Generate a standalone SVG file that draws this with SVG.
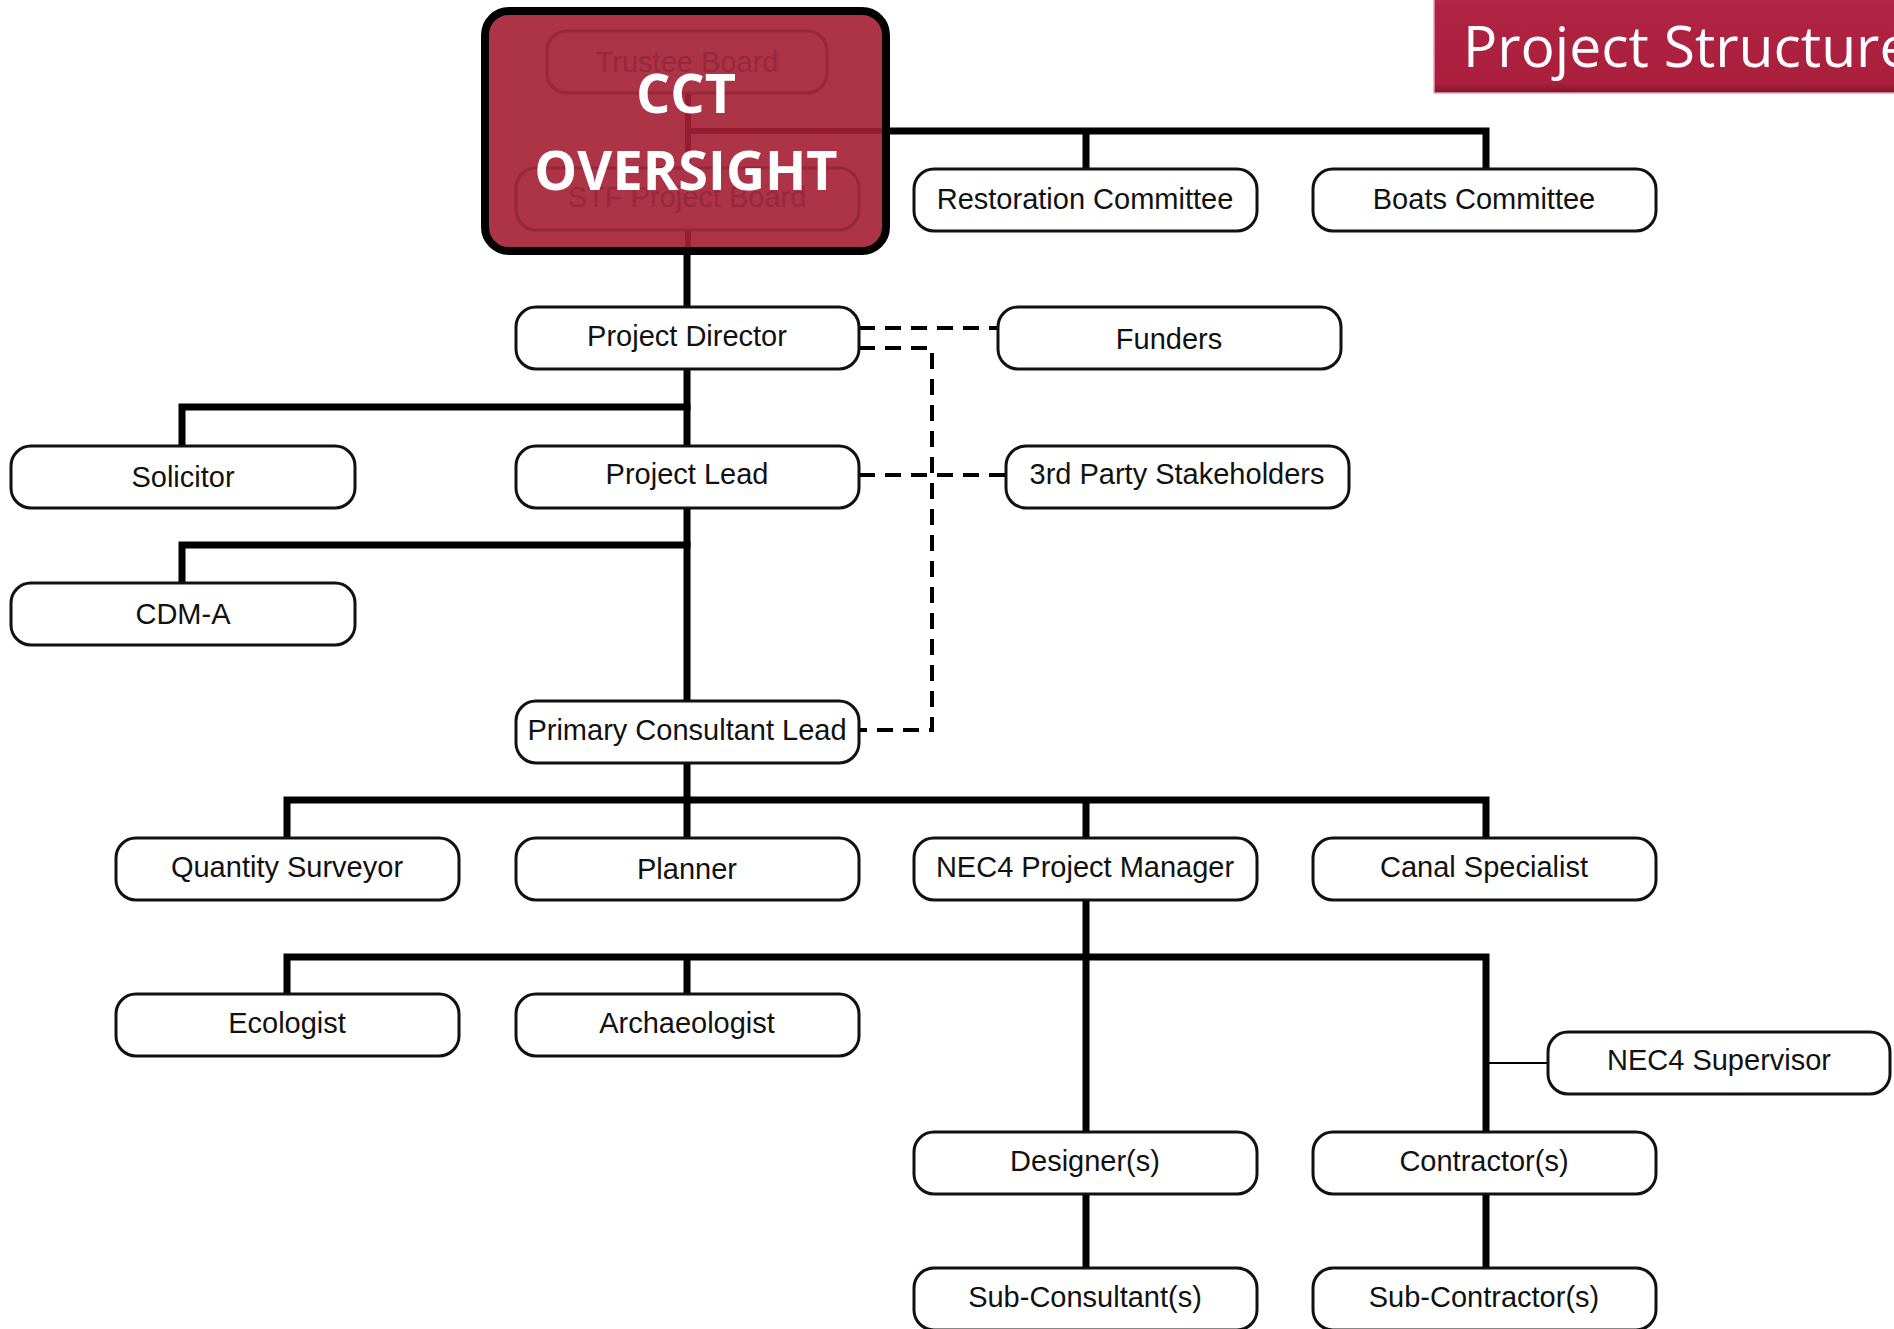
<svg xmlns="http://www.w3.org/2000/svg" width="1894" height="1329" viewBox="0 0 1894 1329">
  <defs>
    <linearGradient id="titleGrad" x1="0" y1="0" x2="0" y2="1">
      <stop offset="0" stop-color="#C0304E"/>
      <stop offset="0.08" stop-color="#B02343"/>
      <stop offset="0.9" stop-color="#AB1F3D"/>
      <stop offset="1" stop-color="#7E1529"/>
    </linearGradient>
  </defs>
  <style>
    .box { fill: #ffffff; stroke: #111111; stroke-width: 3; }
    .lbl { font-family: "Liberation Sans", Arial, sans-serif; font-size: 29px; fill: #111111; text-anchor: middle; }
    .conn { stroke: #000000; stroke-width: 7; fill: none; stroke-linecap: square; }
    .thin { stroke: #000000; stroke-width: 2; fill: none; }
    .dash { stroke: #000000; stroke-width: 4; fill: none; stroke-dasharray: 16 10; }
    .faintbox { fill: none; stroke: #97283B; stroke-width: 3; }
    .faintlbl { font-family: "Liberation Sans", Arial, sans-serif; font-size: 29px; fill: #97293C; text-anchor: middle; }
    .big { font-family: "Open Sans", "Liberation Sans", sans-serif; font-weight: bold; font-size: 54px; fill: #ffffff; text-anchor: middle; }
  </style>

  <rect x="0" y="0" width="1894" height="1329" fill="#ffffff"/>

  <!-- Title -->
  <g id="title">
    <rect x="1434" y="-4" width="470" height="97" fill="url(#titleGrad)" stroke="#E8A3B2" stroke-width="1.5"/>
    <text x="1463" y="67" font-family="'Open Sans', 'Liberation Sans', sans-serif" font-size="57" fill="#ffffff">Project Structure</text>
  </g>

  <!-- Connectors -->
  <g id="connectors">
    <path class="conn" d="M889 131 H1486 M1086 131 V169 M1486 131 V169"/>
    <path class="conn" d="M687 255 V307 M687 368 V446 M687 507 V701 M687 762 V838"/>
    <path class="conn" d="M687 407 H182 V446"/>
    <path class="conn" d="M687 545 H182 V583"/>
    <path class="conn" d="M287 838 V800 H1486 V838 M1086 800 V838"/>
    <path class="conn" d="M1086 900 V1132"/>
    <path class="conn" d="M287 994 V957 H1486 V1132 M687 957 V994"/>
    <path class="conn" d="M1086 1193 V1268 M1486 1193 V1268"/>
    <path class="thin" d="M1486 1063 H1548"/>
    <path class="dash" d="M859 328 H998"/>
    <path class="dash" d="M859 348 H932 V730 H859"/>
    <path class="dash" d="M859 475 H1006"/>
  </g>

  <!-- Oversight group (faded board boxes under red overlay) -->
  <g id="oversight">
    <rect x="485" y="11" width="401" height="240" rx="24" fill="#AD3346" stroke="#000000" stroke-width="8"/>
    <path d="M688 93 V167 M688 131 H882 M688 230 V247" stroke="#951D31" stroke-width="6" fill="none"/>
    <rect class="faintbox" x="547" y="31" width="280" height="62" rx="20"/>
    <text class="faintlbl" x="687" y="72">Trustee Board</text>
    <rect class="faintbox" x="516" y="168" width="343" height="62" rx="20"/>
    <text class="faintlbl" x="687" y="207">STF Project Board</text>
    <text class="big" x="686" y="113">CCT</text>
    <text class="big" x="686" y="190">OVERSIGHT</text>
  </g>

  <g id="restoration"><rect class="box" x="914" y="169" width="343" height="62" rx="20"/><text class="lbl" x="1085" y="209">Restoration Committee</text></g>
  <g id="boats"><rect class="box" x="1313" y="169" width="343" height="62" rx="20"/><text class="lbl" x="1484" y="209">Boats Committee</text></g>
  <g id="project-director"><rect class="box" x="516" y="307" width="343" height="62" rx="20"/><text class="lbl" x="687" y="346">Project Director</text></g>
  <g id="funders"><rect class="box" x="998" y="307" width="343" height="62" rx="20"/><text class="lbl" x="1169" y="349">Funders</text></g>
  <g id="solicitor"><rect class="box" x="11" y="446" width="344" height="62" rx="20"/><text class="lbl" x="183" y="487">Solicitor</text></g>
  <g id="project-lead"><rect class="box" x="516" y="446" width="343" height="62" rx="20"/><text class="lbl" x="687" y="484">Project Lead</text></g>
  <g id="third-party"><rect class="box" x="1006" y="446" width="343" height="62" rx="20"/><text class="lbl" x="1177" y="484">3rd Party Stakeholders</text></g>
  <g id="cdm-a"><rect class="box" x="11" y="583" width="344" height="62" rx="20"/><text class="lbl" x="183" y="624">CDM-A</text></g>
  <g id="pcl"><rect class="box" x="516" y="701" width="343" height="62" rx="20"/><text class="lbl" x="687" y="740">Primary Consultant Lead</text></g>
  <g id="qs"><rect class="box" x="116" y="838" width="343" height="62" rx="20"/><text class="lbl" x="287" y="877">Quantity Surveyor</text></g>
  <g id="planner"><rect class="box" x="516" y="838" width="343" height="62" rx="20"/><text class="lbl" x="687" y="879">Planner</text></g>
  <g id="nec4-pm"><rect class="box" x="914" y="838" width="343" height="62" rx="20"/><text class="lbl" x="1085" y="877">NEC4 Project Manager</text></g>
  <g id="canal"><rect class="box" x="1313" y="838" width="343" height="62" rx="20"/><text class="lbl" x="1484" y="877">Canal Specialist</text></g>
  <g id="ecologist"><rect class="box" x="116" y="994" width="343" height="62" rx="20"/><text class="lbl" x="287" y="1033">Ecologist</text></g>
  <g id="archaeologist"><rect class="box" x="516" y="994" width="343" height="62" rx="20"/><text class="lbl" x="687" y="1033">Archaeologist</text></g>
  <g id="nec4-supervisor"><rect class="box" x="1548" y="1032" width="342" height="62" rx="20"/><text class="lbl" x="1719" y="1070">NEC4 Supervisor</text></g>
  <g id="designers"><rect class="box" x="914" y="1132" width="343" height="62" rx="20"/><text class="lbl" x="1085" y="1171">Designer(s)</text></g>
  <g id="contractors"><rect class="box" x="1313" y="1132" width="343" height="62" rx="20"/><text class="lbl" x="1484" y="1171">Contractor(s)</text></g>
  <g id="sub-consultants"><rect class="box" x="914" y="1268" width="343" height="62" rx="20"/><text class="lbl" x="1085" y="1307">Sub-Consultant(s)</text></g>
  <g id="sub-contractors"><rect class="box" x="1313" y="1268" width="343" height="62" rx="20"/><text class="lbl" x="1484" y="1307">Sub-Contractor(s)</text></g>
</svg>
